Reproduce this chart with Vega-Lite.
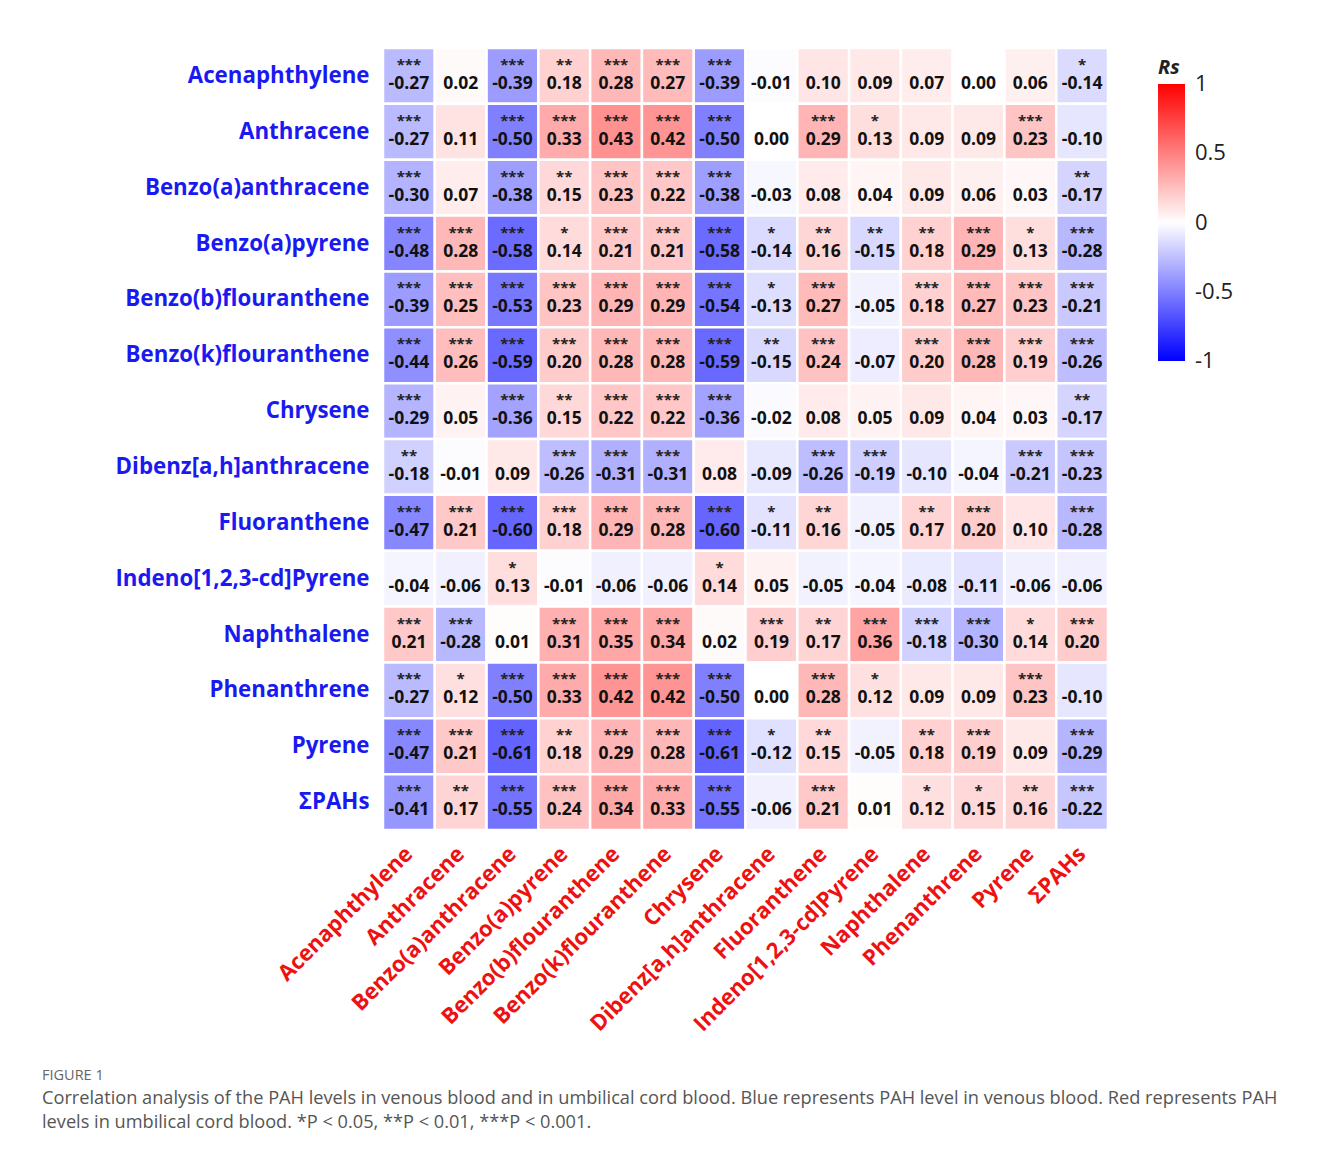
{
  "$schema": "https://vega.github.io/schema/vega-lite/v6.json",
  "autosize": "none",
  "width": 725,
  "height": 782,
  "padding": {"left": 383, "top": 48, "right": 214, "bottom": 319},
  "background": "white",
  "title": {
    "text": "FIGURE 1",
    "subtitle": ["Correlation analysis of the PAH levels in venous blood and in umbilical cord blood. Blue represents PAH level in venous blood. Red represents PAH", "levels in umbilical cord blood. *P < 0.05, **P < 0.01, ***P < 0.001."],
    "orient": "bottom",
    "anchor": "start",
    "frame": "group",
    "dx": -341,
    "offset": 34,
    "font": "Open Sans",
    "fontSize": 14.5,
    "fontWeight": "normal",
    "color": "#666666",
    "subtitleFont": "Open Sans",
    "subtitleFontSize": 18.2,
    "subtitleColor": "#555555",
    "subtitleLineHeight": 24,
    "subtitlePadding": 6
  },
  "config": {
    "view": {"stroke": null},
    "locale": {"number": {"decimal": ".", "thousands": ",", "grouping": [3], "currency": ["$", ""], "minus": "-"}}
  },
  "data": {"values": [
    {"venous":"Acenaphthylene","cord":"Acenaphthylene","rs":-0.27,"sig":"***"},
    {"venous":"Acenaphthylene","cord":"Anthracene","rs":0.02,"sig":""},
    {"venous":"Acenaphthylene","cord":"Benzo(a)anthracene","rs":-0.39,"sig":"***"},
    {"venous":"Acenaphthylene","cord":"Benzo(a)pyrene","rs":0.18,"sig":"**"},
    {"venous":"Acenaphthylene","cord":"Benzo(b)flouranthene","rs":0.28,"sig":"***"},
    {"venous":"Acenaphthylene","cord":"Benzo(k)flouranthene","rs":0.27,"sig":"***"},
    {"venous":"Acenaphthylene","cord":"Chrysene","rs":-0.39,"sig":"***"},
    {"venous":"Acenaphthylene","cord":"Dibenz[a,h]anthracene","rs":-0.01,"sig":""},
    {"venous":"Acenaphthylene","cord":"Fluoranthene","rs":0.10,"sig":""},
    {"venous":"Acenaphthylene","cord":"Indeno[1,2,3-cd]Pyrene","rs":0.09,"sig":""},
    {"venous":"Acenaphthylene","cord":"Naphthalene","rs":0.07,"sig":""},
    {"venous":"Acenaphthylene","cord":"Phenanthrene","rs":0.00,"sig":""},
    {"venous":"Acenaphthylene","cord":"Pyrene","rs":0.06,"sig":""},
    {"venous":"Acenaphthylene","cord":"ΣPAHs","rs":-0.14,"sig":"*"},

    {"venous":"Anthracene","cord":"Acenaphthylene","rs":-0.27,"sig":"***"},
    {"venous":"Anthracene","cord":"Anthracene","rs":0.11,"sig":""},
    {"venous":"Anthracene","cord":"Benzo(a)anthracene","rs":-0.50,"sig":"***"},
    {"venous":"Anthracene","cord":"Benzo(a)pyrene","rs":0.33,"sig":"***"},
    {"venous":"Anthracene","cord":"Benzo(b)flouranthene","rs":0.43,"sig":"***"},
    {"venous":"Anthracene","cord":"Benzo(k)flouranthene","rs":0.42,"sig":"***"},
    {"venous":"Anthracene","cord":"Chrysene","rs":-0.50,"sig":"***"},
    {"venous":"Anthracene","cord":"Dibenz[a,h]anthracene","rs":0.00,"sig":""},
    {"venous":"Anthracene","cord":"Fluoranthene","rs":0.29,"sig":"***"},
    {"venous":"Anthracene","cord":"Indeno[1,2,3-cd]Pyrene","rs":0.13,"sig":"*"},
    {"venous":"Anthracene","cord":"Naphthalene","rs":0.09,"sig":""},
    {"venous":"Anthracene","cord":"Phenanthrene","rs":0.09,"sig":""},
    {"venous":"Anthracene","cord":"Pyrene","rs":0.23,"sig":"***"},
    {"venous":"Anthracene","cord":"ΣPAHs","rs":-0.10,"sig":""},

    {"venous":"Benzo(a)anthracene","cord":"Acenaphthylene","rs":-0.30,"sig":"***"},
    {"venous":"Benzo(a)anthracene","cord":"Anthracene","rs":0.07,"sig":""},
    {"venous":"Benzo(a)anthracene","cord":"Benzo(a)anthracene","rs":-0.38,"sig":"***"},
    {"venous":"Benzo(a)anthracene","cord":"Benzo(a)pyrene","rs":0.15,"sig":"**"},
    {"venous":"Benzo(a)anthracene","cord":"Benzo(b)flouranthene","rs":0.23,"sig":"***"},
    {"venous":"Benzo(a)anthracene","cord":"Benzo(k)flouranthene","rs":0.22,"sig":"***"},
    {"venous":"Benzo(a)anthracene","cord":"Chrysene","rs":-0.38,"sig":"***"},
    {"venous":"Benzo(a)anthracene","cord":"Dibenz[a,h]anthracene","rs":-0.03,"sig":""},
    {"venous":"Benzo(a)anthracene","cord":"Fluoranthene","rs":0.08,"sig":""},
    {"venous":"Benzo(a)anthracene","cord":"Indeno[1,2,3-cd]Pyrene","rs":0.04,"sig":""},
    {"venous":"Benzo(a)anthracene","cord":"Naphthalene","rs":0.09,"sig":""},
    {"venous":"Benzo(a)anthracene","cord":"Phenanthrene","rs":0.06,"sig":""},
    {"venous":"Benzo(a)anthracene","cord":"Pyrene","rs":0.03,"sig":""},
    {"venous":"Benzo(a)anthracene","cord":"ΣPAHs","rs":-0.17,"sig":"**"},

    {"venous":"Benzo(a)pyrene","cord":"Acenaphthylene","rs":-0.48,"sig":"***"},
    {"venous":"Benzo(a)pyrene","cord":"Anthracene","rs":0.28,"sig":"***"},
    {"venous":"Benzo(a)pyrene","cord":"Benzo(a)anthracene","rs":-0.58,"sig":"***"},
    {"venous":"Benzo(a)pyrene","cord":"Benzo(a)pyrene","rs":0.14,"sig":"*"},
    {"venous":"Benzo(a)pyrene","cord":"Benzo(b)flouranthene","rs":0.21,"sig":"***"},
    {"venous":"Benzo(a)pyrene","cord":"Benzo(k)flouranthene","rs":0.21,"sig":"***"},
    {"venous":"Benzo(a)pyrene","cord":"Chrysene","rs":-0.58,"sig":"***"},
    {"venous":"Benzo(a)pyrene","cord":"Dibenz[a,h]anthracene","rs":-0.14,"sig":"*"},
    {"venous":"Benzo(a)pyrene","cord":"Fluoranthene","rs":0.16,"sig":"**"},
    {"venous":"Benzo(a)pyrene","cord":"Indeno[1,2,3-cd]Pyrene","rs":-0.15,"sig":"**"},
    {"venous":"Benzo(a)pyrene","cord":"Naphthalene","rs":0.18,"sig":"**"},
    {"venous":"Benzo(a)pyrene","cord":"Phenanthrene","rs":0.29,"sig":"***"},
    {"venous":"Benzo(a)pyrene","cord":"Pyrene","rs":0.13,"sig":"*"},
    {"venous":"Benzo(a)pyrene","cord":"ΣPAHs","rs":-0.28,"sig":"***"},

    {"venous":"Benzo(b)flouranthene","cord":"Acenaphthylene","rs":-0.39,"sig":"***"},
    {"venous":"Benzo(b)flouranthene","cord":"Anthracene","rs":0.25,"sig":"***"},
    {"venous":"Benzo(b)flouranthene","cord":"Benzo(a)anthracene","rs":-0.53,"sig":"***"},
    {"venous":"Benzo(b)flouranthene","cord":"Benzo(a)pyrene","rs":0.23,"sig":"***"},
    {"venous":"Benzo(b)flouranthene","cord":"Benzo(b)flouranthene","rs":0.29,"sig":"***"},
    {"venous":"Benzo(b)flouranthene","cord":"Benzo(k)flouranthene","rs":0.29,"sig":"***"},
    {"venous":"Benzo(b)flouranthene","cord":"Chrysene","rs":-0.54,"sig":"***"},
    {"venous":"Benzo(b)flouranthene","cord":"Dibenz[a,h]anthracene","rs":-0.13,"sig":"*"},
    {"venous":"Benzo(b)flouranthene","cord":"Fluoranthene","rs":0.27,"sig":"***"},
    {"venous":"Benzo(b)flouranthene","cord":"Indeno[1,2,3-cd]Pyrene","rs":-0.05,"sig":""},
    {"venous":"Benzo(b)flouranthene","cord":"Naphthalene","rs":0.18,"sig":"***"},
    {"venous":"Benzo(b)flouranthene","cord":"Phenanthrene","rs":0.27,"sig":"***"},
    {"venous":"Benzo(b)flouranthene","cord":"Pyrene","rs":0.23,"sig":"***"},
    {"venous":"Benzo(b)flouranthene","cord":"ΣPAHs","rs":-0.21,"sig":"***"},

    {"venous":"Benzo(k)flouranthene","cord":"Acenaphthylene","rs":-0.44,"sig":"***"},
    {"venous":"Benzo(k)flouranthene","cord":"Anthracene","rs":0.26,"sig":"***"},
    {"venous":"Benzo(k)flouranthene","cord":"Benzo(a)anthracene","rs":-0.59,"sig":"***"},
    {"venous":"Benzo(k)flouranthene","cord":"Benzo(a)pyrene","rs":0.20,"sig":"***"},
    {"venous":"Benzo(k)flouranthene","cord":"Benzo(b)flouranthene","rs":0.28,"sig":"***"},
    {"venous":"Benzo(k)flouranthene","cord":"Benzo(k)flouranthene","rs":0.28,"sig":"***"},
    {"venous":"Benzo(k)flouranthene","cord":"Chrysene","rs":-0.59,"sig":"***"},
    {"venous":"Benzo(k)flouranthene","cord":"Dibenz[a,h]anthracene","rs":-0.15,"sig":"**"},
    {"venous":"Benzo(k)flouranthene","cord":"Fluoranthene","rs":0.24,"sig":"***"},
    {"venous":"Benzo(k)flouranthene","cord":"Indeno[1,2,3-cd]Pyrene","rs":-0.07,"sig":""},
    {"venous":"Benzo(k)flouranthene","cord":"Naphthalene","rs":0.20,"sig":"***"},
    {"venous":"Benzo(k)flouranthene","cord":"Phenanthrene","rs":0.28,"sig":"***"},
    {"venous":"Benzo(k)flouranthene","cord":"Pyrene","rs":0.19,"sig":"***"},
    {"venous":"Benzo(k)flouranthene","cord":"ΣPAHs","rs":-0.26,"sig":"***"},

    {"venous":"Chrysene","cord":"Acenaphthylene","rs":-0.29,"sig":"***"},
    {"venous":"Chrysene","cord":"Anthracene","rs":0.05,"sig":""},
    {"venous":"Chrysene","cord":"Benzo(a)anthracene","rs":-0.36,"sig":"***"},
    {"venous":"Chrysene","cord":"Benzo(a)pyrene","rs":0.15,"sig":"**"},
    {"venous":"Chrysene","cord":"Benzo(b)flouranthene","rs":0.22,"sig":"***"},
    {"venous":"Chrysene","cord":"Benzo(k)flouranthene","rs":0.22,"sig":"***"},
    {"venous":"Chrysene","cord":"Chrysene","rs":-0.36,"sig":"***"},
    {"venous":"Chrysene","cord":"Dibenz[a,h]anthracene","rs":-0.02,"sig":""},
    {"venous":"Chrysene","cord":"Fluoranthene","rs":0.08,"sig":""},
    {"venous":"Chrysene","cord":"Indeno[1,2,3-cd]Pyrene","rs":0.05,"sig":""},
    {"venous":"Chrysene","cord":"Naphthalene","rs":0.09,"sig":""},
    {"venous":"Chrysene","cord":"Phenanthrene","rs":0.04,"sig":""},
    {"venous":"Chrysene","cord":"Pyrene","rs":0.03,"sig":""},
    {"venous":"Chrysene","cord":"ΣPAHs","rs":-0.17,"sig":"**"},

    {"venous":"Dibenz[a,h]anthracene","cord":"Acenaphthylene","rs":-0.18,"sig":"**"},
    {"venous":"Dibenz[a,h]anthracene","cord":"Anthracene","rs":-0.01,"sig":""},
    {"venous":"Dibenz[a,h]anthracene","cord":"Benzo(a)anthracene","rs":0.09,"sig":""},
    {"venous":"Dibenz[a,h]anthracene","cord":"Benzo(a)pyrene","rs":-0.26,"sig":"***"},
    {"venous":"Dibenz[a,h]anthracene","cord":"Benzo(b)flouranthene","rs":-0.31,"sig":"***"},
    {"venous":"Dibenz[a,h]anthracene","cord":"Benzo(k)flouranthene","rs":-0.31,"sig":"***"},
    {"venous":"Dibenz[a,h]anthracene","cord":"Chrysene","rs":0.08,"sig":""},
    {"venous":"Dibenz[a,h]anthracene","cord":"Dibenz[a,h]anthracene","rs":-0.09,"sig":""},
    {"venous":"Dibenz[a,h]anthracene","cord":"Fluoranthene","rs":-0.26,"sig":"***"},
    {"venous":"Dibenz[a,h]anthracene","cord":"Indeno[1,2,3-cd]Pyrene","rs":-0.19,"sig":"***"},
    {"venous":"Dibenz[a,h]anthracene","cord":"Naphthalene","rs":-0.10,"sig":""},
    {"venous":"Dibenz[a,h]anthracene","cord":"Phenanthrene","rs":-0.04,"sig":""},
    {"venous":"Dibenz[a,h]anthracene","cord":"Pyrene","rs":-0.21,"sig":"***"},
    {"venous":"Dibenz[a,h]anthracene","cord":"ΣPAHs","rs":-0.23,"sig":"***"},

    {"venous":"Fluoranthene","cord":"Acenaphthylene","rs":-0.47,"sig":"***"},
    {"venous":"Fluoranthene","cord":"Anthracene","rs":0.21,"sig":"***"},
    {"venous":"Fluoranthene","cord":"Benzo(a)anthracene","rs":-0.60,"sig":"***"},
    {"venous":"Fluoranthene","cord":"Benzo(a)pyrene","rs":0.18,"sig":"***"},
    {"venous":"Fluoranthene","cord":"Benzo(b)flouranthene","rs":0.29,"sig":"***"},
    {"venous":"Fluoranthene","cord":"Benzo(k)flouranthene","rs":0.28,"sig":"***"},
    {"venous":"Fluoranthene","cord":"Chrysene","rs":-0.60,"sig":"***"},
    {"venous":"Fluoranthene","cord":"Dibenz[a,h]anthracene","rs":-0.11,"sig":"*"},
    {"venous":"Fluoranthene","cord":"Fluoranthene","rs":0.16,"sig":"**"},
    {"venous":"Fluoranthene","cord":"Indeno[1,2,3-cd]Pyrene","rs":-0.05,"sig":""},
    {"venous":"Fluoranthene","cord":"Naphthalene","rs":0.17,"sig":"**"},
    {"venous":"Fluoranthene","cord":"Phenanthrene","rs":0.20,"sig":"***"},
    {"venous":"Fluoranthene","cord":"Pyrene","rs":0.10,"sig":""},
    {"venous":"Fluoranthene","cord":"ΣPAHs","rs":-0.28,"sig":"***"},

    {"venous":"Indeno[1,2,3-cd]Pyrene","cord":"Acenaphthylene","rs":-0.04,"sig":""},
    {"venous":"Indeno[1,2,3-cd]Pyrene","cord":"Anthracene","rs":-0.06,"sig":""},
    {"venous":"Indeno[1,2,3-cd]Pyrene","cord":"Benzo(a)anthracene","rs":0.13,"sig":"*"},
    {"venous":"Indeno[1,2,3-cd]Pyrene","cord":"Benzo(a)pyrene","rs":-0.01,"sig":""},
    {"venous":"Indeno[1,2,3-cd]Pyrene","cord":"Benzo(b)flouranthene","rs":-0.06,"sig":""},
    {"venous":"Indeno[1,2,3-cd]Pyrene","cord":"Benzo(k)flouranthene","rs":-0.06,"sig":""},
    {"venous":"Indeno[1,2,3-cd]Pyrene","cord":"Chrysene","rs":0.14,"sig":"*"},
    {"venous":"Indeno[1,2,3-cd]Pyrene","cord":"Dibenz[a,h]anthracene","rs":0.05,"sig":""},
    {"venous":"Indeno[1,2,3-cd]Pyrene","cord":"Fluoranthene","rs":-0.05,"sig":""},
    {"venous":"Indeno[1,2,3-cd]Pyrene","cord":"Indeno[1,2,3-cd]Pyrene","rs":-0.04,"sig":""},
    {"venous":"Indeno[1,2,3-cd]Pyrene","cord":"Naphthalene","rs":-0.08,"sig":""},
    {"venous":"Indeno[1,2,3-cd]Pyrene","cord":"Phenanthrene","rs":-0.11,"sig":""},
    {"venous":"Indeno[1,2,3-cd]Pyrene","cord":"Pyrene","rs":-0.06,"sig":""},
    {"venous":"Indeno[1,2,3-cd]Pyrene","cord":"ΣPAHs","rs":-0.06,"sig":""},

    {"venous":"Naphthalene","cord":"Acenaphthylene","rs":0.21,"sig":"***"},
    {"venous":"Naphthalene","cord":"Anthracene","rs":-0.28,"sig":"***"},
    {"venous":"Naphthalene","cord":"Benzo(a)anthracene","rs":0.01,"sig":""},
    {"venous":"Naphthalene","cord":"Benzo(a)pyrene","rs":0.31,"sig":"***"},
    {"venous":"Naphthalene","cord":"Benzo(b)flouranthene","rs":0.35,"sig":"***"},
    {"venous":"Naphthalene","cord":"Benzo(k)flouranthene","rs":0.34,"sig":"***"},
    {"venous":"Naphthalene","cord":"Chrysene","rs":0.02,"sig":""},
    {"venous":"Naphthalene","cord":"Dibenz[a,h]anthracene","rs":0.19,"sig":"***"},
    {"venous":"Naphthalene","cord":"Fluoranthene","rs":0.17,"sig":"**"},
    {"venous":"Naphthalene","cord":"Indeno[1,2,3-cd]Pyrene","rs":0.36,"sig":"***"},
    {"venous":"Naphthalene","cord":"Naphthalene","rs":-0.18,"sig":"***"},
    {"venous":"Naphthalene","cord":"Phenanthrene","rs":-0.30,"sig":"***"},
    {"venous":"Naphthalene","cord":"Pyrene","rs":0.14,"sig":"*"},
    {"venous":"Naphthalene","cord":"ΣPAHs","rs":0.20,"sig":"***"},

    {"venous":"Phenanthrene","cord":"Acenaphthylene","rs":-0.27,"sig":"***"},
    {"venous":"Phenanthrene","cord":"Anthracene","rs":0.12,"sig":"*"},
    {"venous":"Phenanthrene","cord":"Benzo(a)anthracene","rs":-0.50,"sig":"***"},
    {"venous":"Phenanthrene","cord":"Benzo(a)pyrene","rs":0.33,"sig":"***"},
    {"venous":"Phenanthrene","cord":"Benzo(b)flouranthene","rs":0.42,"sig":"***"},
    {"venous":"Phenanthrene","cord":"Benzo(k)flouranthene","rs":0.42,"sig":"***"},
    {"venous":"Phenanthrene","cord":"Chrysene","rs":-0.50,"sig":"***"},
    {"venous":"Phenanthrene","cord":"Dibenz[a,h]anthracene","rs":0.00,"sig":""},
    {"venous":"Phenanthrene","cord":"Fluoranthene","rs":0.28,"sig":"***"},
    {"venous":"Phenanthrene","cord":"Indeno[1,2,3-cd]Pyrene","rs":0.12,"sig":"*"},
    {"venous":"Phenanthrene","cord":"Naphthalene","rs":0.09,"sig":""},
    {"venous":"Phenanthrene","cord":"Phenanthrene","rs":0.09,"sig":""},
    {"venous":"Phenanthrene","cord":"Pyrene","rs":0.23,"sig":"***"},
    {"venous":"Phenanthrene","cord":"ΣPAHs","rs":-0.10,"sig":""},

    {"venous":"Pyrene","cord":"Acenaphthylene","rs":-0.47,"sig":"***"},
    {"venous":"Pyrene","cord":"Anthracene","rs":0.21,"sig":"***"},
    {"venous":"Pyrene","cord":"Benzo(a)anthracene","rs":-0.61,"sig":"***"},
    {"venous":"Pyrene","cord":"Benzo(a)pyrene","rs":0.18,"sig":"**"},
    {"venous":"Pyrene","cord":"Benzo(b)flouranthene","rs":0.29,"sig":"***"},
    {"venous":"Pyrene","cord":"Benzo(k)flouranthene","rs":0.28,"sig":"***"},
    {"venous":"Pyrene","cord":"Chrysene","rs":-0.61,"sig":"***"},
    {"venous":"Pyrene","cord":"Dibenz[a,h]anthracene","rs":-0.12,"sig":"*"},
    {"venous":"Pyrene","cord":"Fluoranthene","rs":0.15,"sig":"**"},
    {"venous":"Pyrene","cord":"Indeno[1,2,3-cd]Pyrene","rs":-0.05,"sig":""},
    {"venous":"Pyrene","cord":"Naphthalene","rs":0.18,"sig":"**"},
    {"venous":"Pyrene","cord":"Phenanthrene","rs":0.19,"sig":"***"},
    {"venous":"Pyrene","cord":"Pyrene","rs":0.09,"sig":""},
    {"venous":"Pyrene","cord":"ΣPAHs","rs":-0.29,"sig":"***"},

    {"venous":"ΣPAHs","cord":"Acenaphthylene","rs":-0.41,"sig":"***"},
    {"venous":"ΣPAHs","cord":"Anthracene","rs":0.17,"sig":"**"},
    {"venous":"ΣPAHs","cord":"Benzo(a)anthracene","rs":-0.55,"sig":"***"},
    {"venous":"ΣPAHs","cord":"Benzo(a)pyrene","rs":0.24,"sig":"***"},
    {"venous":"ΣPAHs","cord":"Benzo(b)flouranthene","rs":0.34,"sig":"***"},
    {"venous":"ΣPAHs","cord":"Benzo(k)flouranthene","rs":0.33,"sig":"***"},
    {"venous":"ΣPAHs","cord":"Chrysene","rs":-0.55,"sig":"***"},
    {"venous":"ΣPAHs","cord":"Dibenz[a,h]anthracene","rs":-0.06,"sig":""},
    {"venous":"ΣPAHs","cord":"Fluoranthene","rs":0.21,"sig":"***"},
    {"venous":"ΣPAHs","cord":"Indeno[1,2,3-cd]Pyrene","rs":0.01,"sig":""},
    {"venous":"ΣPAHs","cord":"Naphthalene","rs":0.12,"sig":"*"},
    {"venous":"ΣPAHs","cord":"Phenanthrene","rs":0.15,"sig":"*"},
    {"venous":"ΣPAHs","cord":"Pyrene","rs":0.16,"sig":"**"},
    {"venous":"ΣPAHs","cord":"ΣPAHs","rs":-0.22,"sig":"***"}
  ]},
  "encoding": {
    "x": {
      "field": "cord", "type": "nominal", "sort": null, "title": null,
      "axis": {
        "orient": "bottom", "labelAngle": -45, "labelAlign": "right", "labelBaseline": "middle",
        "labelFont": "Open Sans", "labelFontSize": 22, "labelFontWeight": "bold", "labelColor": "#ee1111",
        "labelPadding": 20, "ticks": false, "domain": false, "grid": false, "labelLimit": 400
      }
    },
    "y": {
      "field": "venous", "type": "nominal", "sort": null, "title": null,
      "axis": {
        "labelFont": "Open Sans", "labelFontSize": 22.3, "labelFontWeight": "bold", "labelColor": "#1a1af0",
        "labelPadding": 14, "ticks": false, "domain": false, "grid": false, "labelLimit": 400
      }
    }
  },
  "layer": [
    {
      "mark": {"type": "rect", "stroke": "white", "strokeWidth": 2.5},
      "encoding": {
        "color": {
          "field": "rs", "type": "quantitative",
          "scale": {"domain": [-1, 0, 1], "range": ["#0000ff", "#ffffff", "#ff0000"], "interpolate": "rgb"},
          "legend": {
            "orient": "none", "legendX": 775, "legendY": 10, "title": "Rs",
            "titleFont": "Open Sans", "titleFontSize": 20, "titleFontWeight": "bold", "titleFontStyle": "italic", "titleColor": "#222222",
            "titlePadding": 6, "titleAnchor": "start",
            "gradientLength": 277, "gradientThickness": 27, "gradientStrokeWidth": 0,
            "values": [-1, -0.5, 0, 0.5, 1], "format": "",
            "labelFont": "Open Sans", "labelFontSize": 22, "labelColor": "#222222", "labelOffset": 10,
            "encode": {"labels": {"update": {"baseline": {"value": "middle"}}}}
          }
        }
      }
    },
    {
      "mark": {"type": "text", "font": "Open Sans", "fontSize": 15, "fontWeight": "bold", "color": "#222222", "baseline": "middle", "dy": -11},
      "encoding": {"text": {"field": "sig", "type": "nominal"}}
    },
    {
      "mark": {"type": "text", "font": "Open Sans", "fontSize": 17.5, "fontWeight": "bold", "color": "#111111", "baseline": "middle", "dy": 8},
      "encoding": {"text": {"field": "rs", "type": "quantitative", "format": ".2f"}}
    }
  ]
}
